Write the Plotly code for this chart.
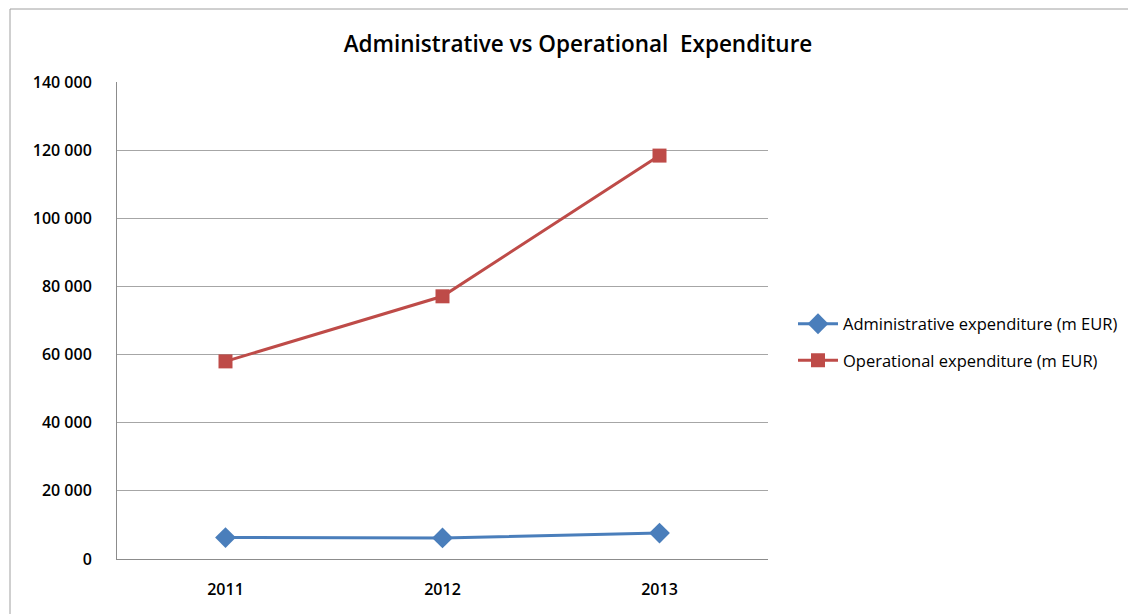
import plotly.graph_objects as go

years = ["2011", "2012", "2013"]
admin_exp = [6300, 6200, 7600]
oper_exp = [58000, 77100, 118400]
series_names = ["Administrative expenditure (m EUR)", "Operational expenditure (m EUR)"]
y_ticks = [0, 20000, 40000, 60000, 80000, 100000, 120000, 140000]

FONT = "Open Sans, sans-serif"
OFF = 8  # page body margin

fig = go.Figure()
fig.add_trace(go.Scatter(
    x=years, y=admin_exp, name=series_names[0], mode="lines+markers",
    legendgroup="a",
    line=dict(color="#4A7EBB", width=3),
    marker=dict(symbol="diamond", size=16, color="#4A7EBB"),
))
fig.add_trace(go.Scatter(
    x=years, y=oper_exp, name=series_names[1], mode="lines+markers",
    legendgroup="b",
    line=dict(color="#BE4B48", width=3),
    marker=dict(symbol="square", size=14, color="#BE4B48"),
))

W, H = 1136 - OFF, 614 - OFF
L, R, T, B = 117 - OFF, 768 - OFF, 82 - OFF, 559 - OFF
pw, ph = R - L, B - T

def px(xs):
    return (xs - OFF - L) / pw

def py(ys):
    return (B - (ys - OFF)) / ph

fig.update_layout(
    width=W, height=H,
    margin=dict(l=L, r=W - R, t=T, b=H - B),
    paper_bgcolor="white", plot_bgcolor="white",
    separators=". ",
    font=dict(family=FONT, size=15, color="#000000"),
    title=dict(
        text="Administrative vs Operational  Expenditure",
        x=(578 - OFF) / W, xanchor="center", xref="container",
        y=1 - (44 - OFF) / H, yanchor="middle", yref="container",
        font=dict(family=FONT, size=22.5, color="#000000", weight=600),
    ),
    legend=dict(
        x=px(793), xanchor="left", y=py(342), yanchor="middle",
        font=dict(family=FONT, size=16.5, color="#000000"),
        bgcolor="rgba(0,0,0,0)", itemwidth=40, tracegroupgap=12,
    ),
    xaxis=dict(
        type="category", showgrid=False, showline=True, linecolor="#8C8C8C",
        linewidth=1, ticks="", ticklabelstandoff=16, zeroline=False,
        range=[-0.5, 2.5],
        tickfont=dict(family=FONT, size=16, weight=600),
    ),
    yaxis=dict(
        range=[0, 140000], tickvals=y_ticks, tickformat=",d",
        showgrid=True, gridcolor="#A6A6A6", gridwidth=1,
        showline=True, linecolor="#8C8C8C", linewidth=1, ticks="",
        ticklabelstandoff=21, zeroline=False,
        tickfont=dict(family=FONT, size=16, weight=600),
    ),
    shapes=[dict(
        type="rect", xref="paper", yref="paper",
        x0=px(10), x1=px(1160), y0=py(640), y1=py(9),
        line=dict(color="#A0A0A0", width=1), fillcolor="rgba(0,0,0,0)", layer="below",
    )],
)

fig.write_html("out.html")
